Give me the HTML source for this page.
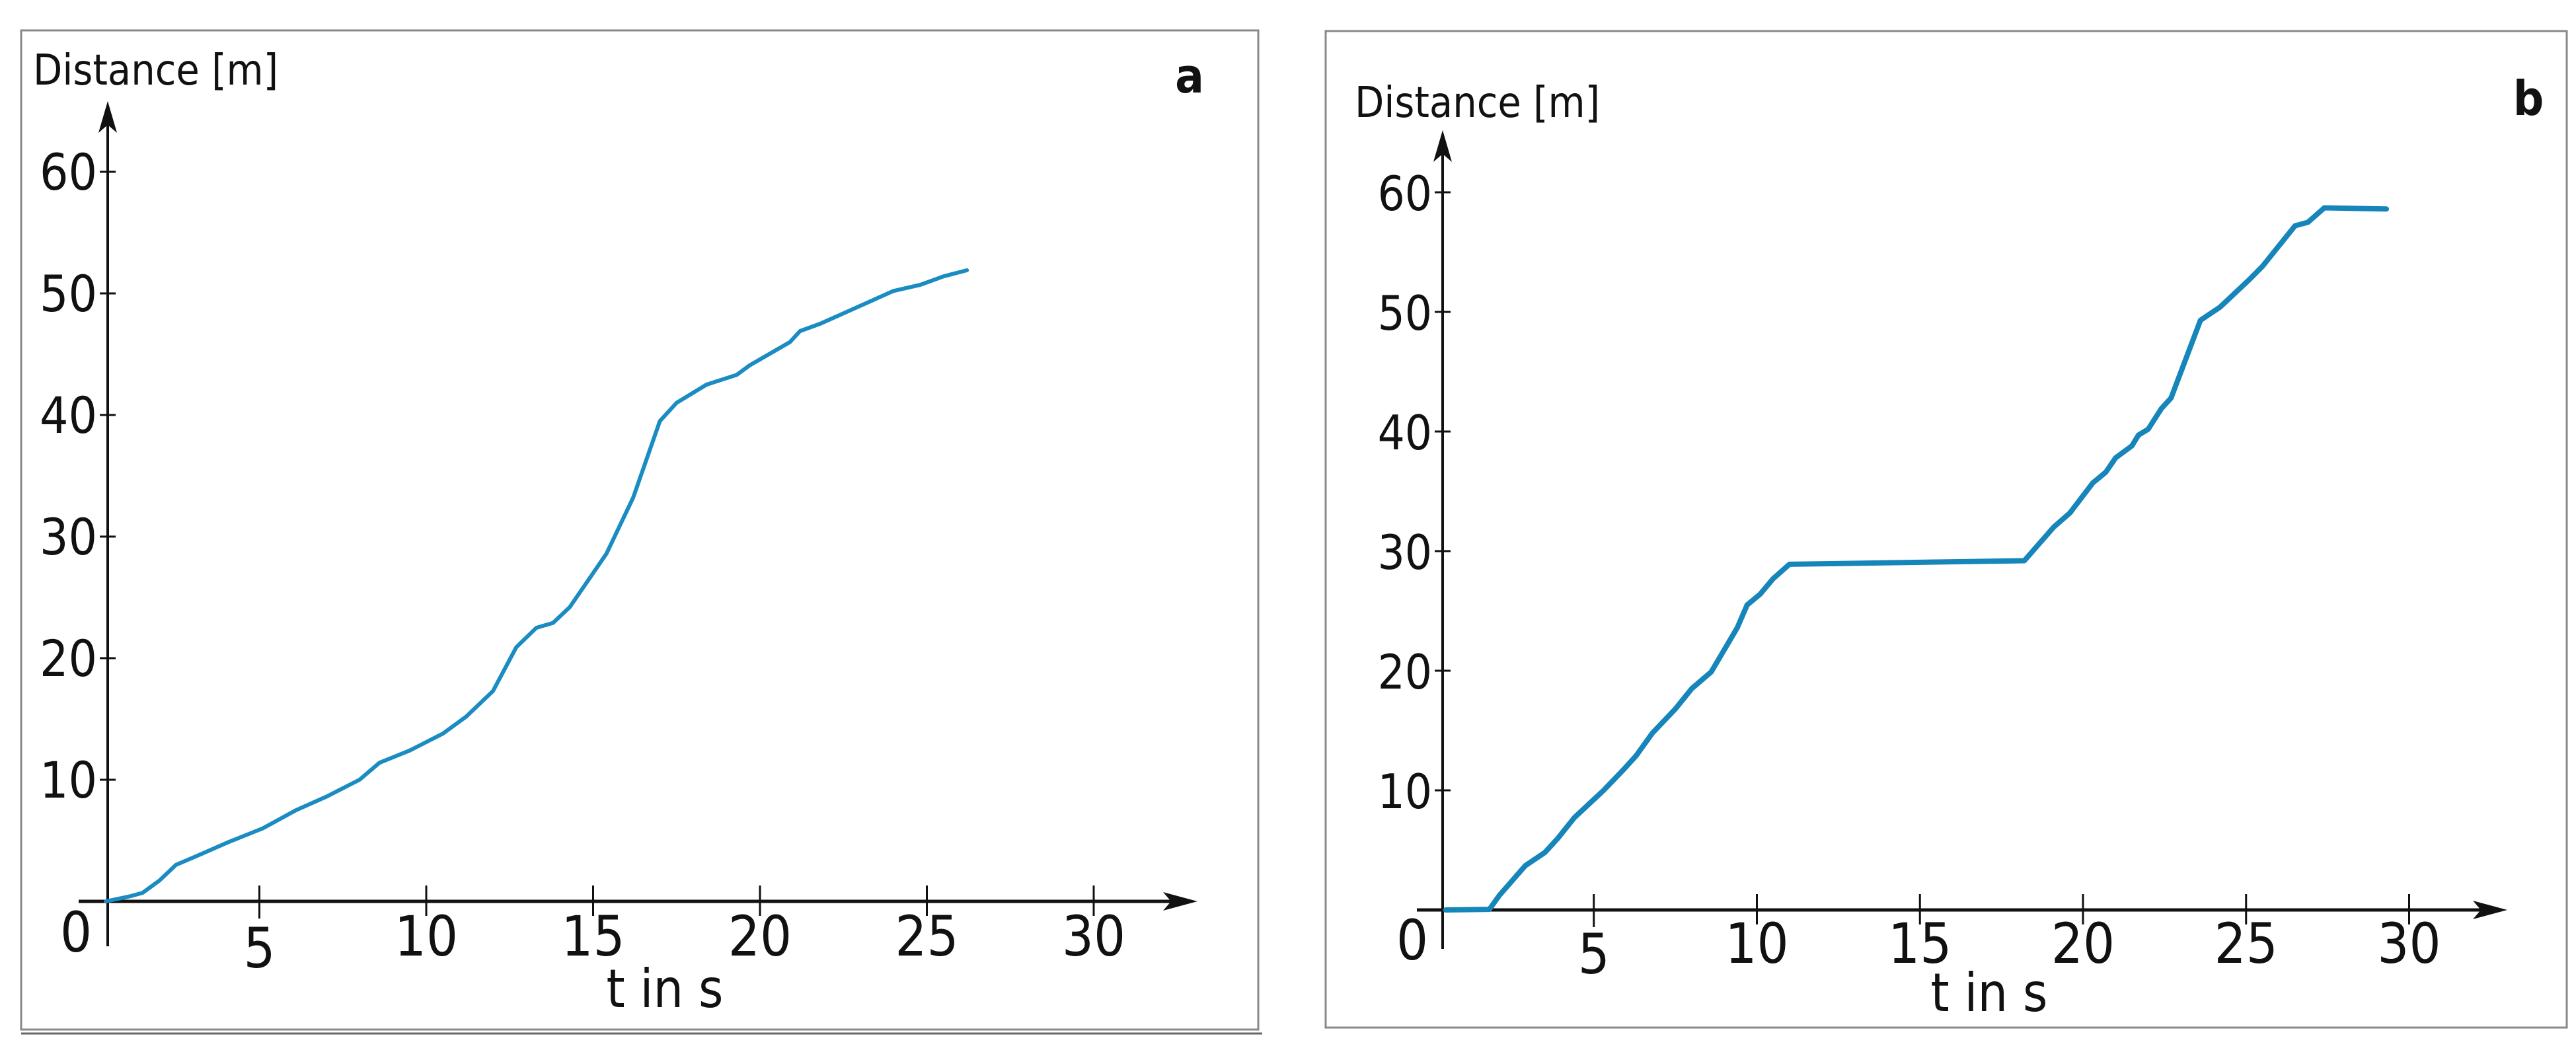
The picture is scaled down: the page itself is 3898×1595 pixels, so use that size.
<!DOCTYPE html>
<html><head><meta charset="utf-8"><style>
html,body{margin:0;padding:0;background:#fff;}
svg{display:block;}
text{font-family:"DejaVu Sans Condensed","DejaVu Sans","Liberation Sans",sans-serif;fill:#111;}
</style></head><body>
<svg id="fig" width="3898" height="1595" viewBox="0 0 3898 1595" xmlns="http://www.w3.org/2000/svg">
<rect x="0" y="0" width="3898" height="1595" fill="#fff"/>
<g id="pa"></g>
<g id="pb"></g>
</svg>
<script>
const xTicks = [5, 10, 15, 20, 25, 30];
const yTicks = [10, 20, 30, 40, 50, 60];
const tA = [0.4,1.1,1.5,2,2.5,3.1,4.1,5.1,6.1,7,8,8.6,9.5,10.5,11.2,12,12.7,13.3,13.8,14.3,15.4,16.2,17,17.5,18.4,19.3,19.7,20.9,21.2,21.8,23.1,24,24.8,25.5,26.2];
const dA = [0,0.4,0.7,1.7,3,3.7,4.9,6,7.5,8.6,10,11.4,12.4,13.8,15.2,17.3,20.9,22.5,22.9,24.2,28.6,33.2,39.5,41,42.5,43.3,44.1,46,46.9,47.5,49.1,50.2,50.7,51.4,51.9];
const tB = [0.46,1.8,2.1,2.9,3.5,3.9,4.4,5.3,5.9,6.3,6.8,7.5,8.0,8.6,9.4,9.7,10.1,10.5,11,13.4,18.2,19.1,19.6,20.3,20.7,21,21.5,21.7,22,22.4,22.7,23.6,24.2,25.1,25.5,26.5,26.9,27.4,29.3];
const dB = [0,0.05,1.2,3.7,4.8,6,7.7,10,11.7,12.9,14.8,16.8,18.5,19.9,23.6,25.5,26.4,27.7,28.9,29,29.2,32,33.2,35.7,36.6,37.8,38.8,39.7,40.2,41.9,42.8,49.3,50.4,52.7,53.8,57.2,57.5,58.7,58.6];

const NS = "http://www.w3.org/2000/svg";
function mk(parent, tag, attrs, txt){
  const e = document.createElementNS(NS, tag);
  for (const k in attrs) e.setAttribute(k, attrs[k]);
  if (txt !== undefined) e.textContent = txt;
  parent.appendChild(e);
  return e;
}
function panel(g, cfg, ts, ds){
  const X = t => cfg.x0 + t*cfg.sx;
  const Y = d => cfg.y0 - d*cfg.sy;
  let e;
  e = mk(g,'rect',{x:cfg.bx,y:cfg.by,width:cfg.bw,height:cfg.bh,fill:'none',stroke:'#888','stroke-width':3});
  
  
  if (cfg.dbl){
    e = mk(g,'line',{x1:cfg.bx,x2:cfg.bx+cfg.bw+6,y1:cfg.by+cfg.bh+6,y2:cfg.by+cfg.bh+6,stroke:'#666','stroke-width':3});
    
    
  }
  e = mk(g,'line',{x1:cfg.axStart,x2:cfg.axEnd-30,y1:cfg.y0,y2:cfg.y0,stroke:'#111','stroke-width':5});
  
  
  e = mk(g,'path',{d:`M${cfg.axEnd},${cfg.y0} L${cfg.axEnd-52},${cfg.y0-14} L${cfg.axEnd-40},${cfg.y0} L${cfg.axEnd-52},${cfg.y0+14} Z`,fill:'#111'});
  
  
  e = mk(g,'line',{x1:cfg.yaxX,x2:cfg.yaxX,y1:cfg.ayBot,y2:cfg.ayTop+30,stroke:'#111','stroke-width':4});
  
  
  e = mk(g,'path',{d:`M${cfg.yaxX},${cfg.ayTop} L${cfg.yaxX-14},${cfg.ayTop+48} L${cfg.yaxX},${cfg.ayTop+36} L${cfg.yaxX+14},${cfg.ayTop+48} Z`,fill:'#111'});
  
  
  xTicks.forEach(v=>{
    const x = X(v);
    let t = mk(g,'line',{x1:x,x2:x,y1:cfg.y0-24,y2:cfg.y0+(v===5?26:22),stroke:'#111','stroke-width':3});
    
    
    let l = mk(g,'text',{x:x,y:cfg.y0+(v===5?cfg.xl5:cfg.xl),'font-size':84,'text-anchor':'middle'},String(v));
    
    
  });
  yTicks.forEach(v=>{
    const y = Y(v);
    let t = mk(g,'line',{x1:cfg.yaxX-12,x2:cfg.yaxX+12,y1:y,y2:y,stroke:'#111','stroke-width':3});
    
    
    let l = mk(g,'text',{x:cfg.yaxX-16,y:y+27,'font-size':cfg.yfs,'text-anchor':'end'},String(v));
    
    
  });
  e = mk(g,'text',{x:cfg.zx,y:cfg.zy,'font-size':84,'text-anchor':'middle'},'0');
  
  
  e = mk(g,'text',{x:cfg.tx,y:cfg.ty,'font-size':80,'text-anchor':'middle'},'t in s');
  
  
  e = mk(g,'text',{x:cfg.dx,y:cfg.dy,'font-size':64},'Distance [m]');
  
  
  e = mk(g,'text',{x:cfg.lx,y:cfg.ly,'font-size':72,'font-weight':'bold','text-anchor':'middle'},cfg.label);
  
  
  const pts = ts.map((t,i)=>X(t).toFixed(1)+','+Y(ds[i]).toFixed(1)).join(' ');
  e = mk(g,'polyline',{points:pts,fill:'none',stroke:cfg.col,'stroke-width':cfg.lw,'stroke-linejoin':'round','stroke-linecap':'round'});
  
  
}
panel(document.getElementById('pa'),{
  x0:140,sx:50.5,y0:1364,sy:18.4,bx:32,by:46,bw:1872,bh:1512,dbl:true,
  axStart:119,axEnd:1812,yaxX:163,ayTop:153,ayBot:1432,
  xl:82,xl5:100,yfs:76,zx:115,zy:1440,tx:1006,ty:1524,dx:50,dy:128,lx:1800,ly:140,label:'a',
  col:'#1a8cc2',lw:6
}, tA, dA);
panel(document.getElementById('pb'),{
  x0:2165,sx:49.35,y0:1377,sy:18.1,bx:2006,by:47,bw:1878,bh:1508,dbl:false,
  axStart:2144,axEnd:3794,yaxX:2183,ayTop:197,ayBot:1436,
  xl:80,xl5:96,yfs:72,zx:2137,zy:1452,tx:3010,ty:1530,dx:2050,dy:177,lx:3826,ly:174,label:'b',
  col:'#1585ba',lw:8
}, tB, dB);
</script>
</body></html>
